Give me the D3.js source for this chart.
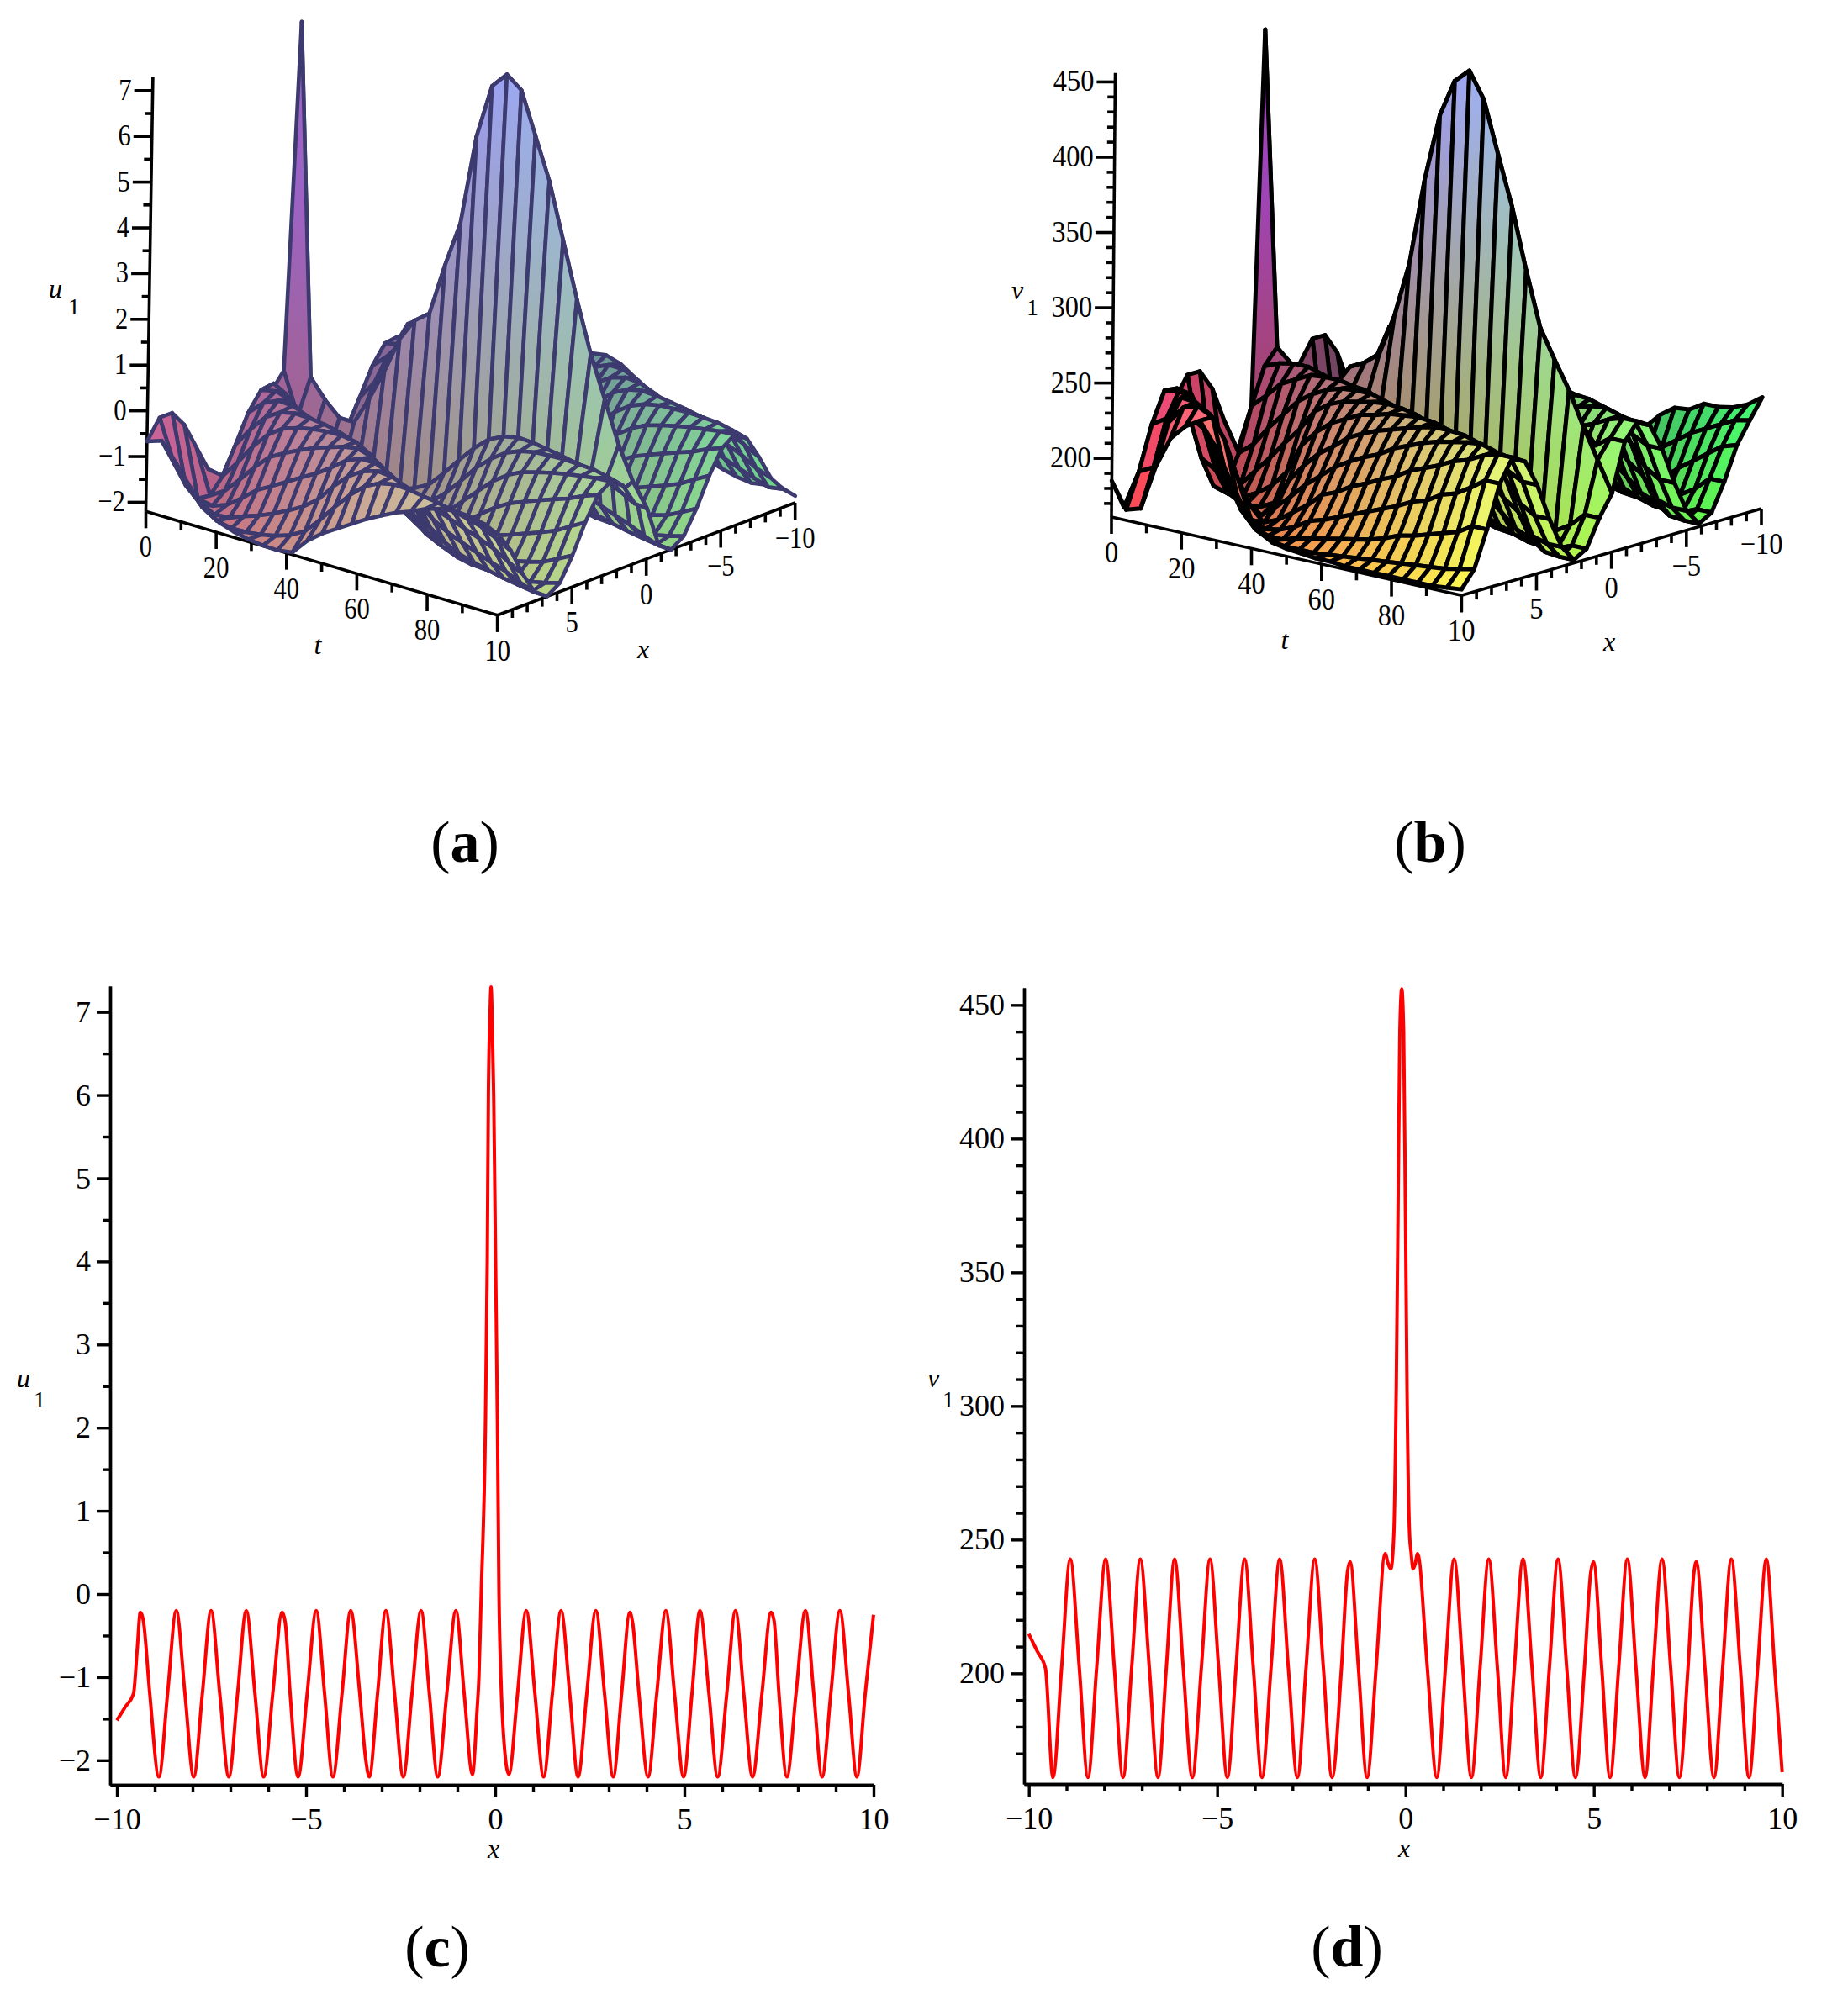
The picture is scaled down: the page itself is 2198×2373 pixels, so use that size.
<!DOCTYPE html>
<html>
<head>
<meta charset="utf-8">
<script src="https://d3js.org/d3.v7.min.js"></script>
<style>
body { margin: 0; background: #fff; }
text { font-family: "Liberation Serif", serif; fill: #000; }
</style>
</head>
<body>
<div id="chart"></div>
<script>
// grid of the two surfaces
var tGrid = [0,4.17,8.33,12.5,16.67,20.83,25,29.17,33.33,37.5,41.67,45.83,50,54.17,58.33,62.5,66.67,70.83,75,79.17,83.33,87.5,91.67,95.83,100];
var xGrid = [10,9.17,8.33,7.5,6.67,5.83,5,4.17,3.33,2.5,1.67,.83,0,-.83,-1.67,-2.5,-3.33,-4.17,-5,-5.83,-6.67,-7.5,-8.33,-9.17,-10];

// u1, one row per t
var uRows = [
[-.67,-.25,-.25,-.61,-1.2,-1.79,-2.15,-2.15,-1.79,-1.2,-.61,-.25,7.28,-.61,-1.2,-1.79,-2.15,-2.15,-1.79,-1.2,-.61,-.25,-.25,-.61,-1.2],
[-.56,-1.14,-1.74,-2.13,-2.17,-1.84,-1.26,-.66,-.27,-.23,-.56,-1.14,-.4,-2.13,-2.17,-1.84,-1.26,-.66,-.27,-.23,-.56,-1.14,-1.74,-2.13,-2.17],
[-.95,-1.57,-2.04,-2.2,-1.97,-1.45,-.83,-.36,-.2,-.43,-.95,-1.57,-.8,-2.2,-1.97,-1.45,-.83,-.36,-.2,-.43,-.95,-1.57,-2.04,-2.2,-1.97],
[-1.39,-1.93,-2.19,-2.08,-1.63,-1.01,-.47,-.21,-.32,-.77,-1.39,-1.93,-1.1,-2.08,-1.63,-1.01,-.47,-.21,-.32,-.77,-1.39,-1.93,-2.19,-2.08,-1.63],
[-1.74,-2.13,-2.17,-1.84,-1.26,-.66,-.27,-.23,-.56,-1.14,-1.74,-2.13,-1.1,-1.84,-1.26,-.66,-.27,-.23,-.56,-1.14,-1.74,-2.13,-2.17,-1.84,-1.26],
[-1.97,-2.2,-2.04,-1.57,-.95,-.43,-.2,-.36,-.83,-1.45,-1.97,-2.2,-.5,-1.57,-.95,-.43,-.2,-.36,-.83,-1.45,-1.97,-2.2,-2.04,-1.57,-.95],
[-2.08,-2.19,-1.93,-1.39,-.77,-.32,-.21,-.47,-1.01,-1.63,-2.08,-2.19,.2,-1.39,-.77,-.32,-.21,-.47,-1.01,-1.63,-2.08,-2.19,-1.93,-1.39,-.77],
[-2.15,-2.15,-1.79,-1.2,-.61,-.25,-.25,-.61,-1.2,-1.79,-2.15,-2.15,1,-1.2,-.61,-.25,-.25,-.61,-1.2,-1.79,-2.15,-2.15,-1.79,-1.2,-.61],
[-2.19,-2.08,-1.63,-1.01,-.47,-.21,-.32,-.77,-1.39,-1.93,-2.19,-2.08,1.5,-1.01,-.47,-.21,-.32,-.77,-1.39,-1.93,-2.19,-2.08,-1.63,-1.01,-.47],
[-2.2,-1.97,-1.45,-.83,-.36,-.2,-.43,-.95,-1.57,-2.04,-2.2,-1.97,1.75,-.83,-.36,-.2,-.43,-.95,-1.57,-2.04,-2.2,-1.97,-1.45,-.83,-.36],
[-2.15,-1.79,-1.2,-.61,-.25,-.25,-.61,-1.2,-1.79,-2.15,-2.15,-1.79,2.9,-.61,-.25,-.25,-.61,-1.2,-1.79,-2.15,-2.15,-1.79,-1.2,-.61,-.25],
[-1.8,-1.45,-.83,-.36,-.2,-.43,-.95,-1.57,-2.04,-2.2,-1.97,-1.45,3.9,-.36,-.2,-.43,-.95,-1.57,-2.04,-2.2,-1.97,-1.45,-.83,-.36,-.2],
[-1.55,-1.07,-.51,-.22,-.3,-.72,-1.33,-1.89,-2.18,-2.1,-1.68,-1.07,5.9,-.22,-.3,-.72,-1.33,-1.89,-2.18,-2.1,-1.68,-1.07,-.51,-.22,-.3],
[-1.35,-.72,-.3,-.22,-.51,-1.07,-1.68,-2.1,-2.18,-1.89,-1.33,-.72,7.1,-.22,-.51,-1.07,-1.68,-2.1,-2.18,-1.89,-1.33,-.72,-.3,-.22,-.51],
[-1.15,-.43,-.2,-.36,-.83,-1.45,-1.97,-2.2,-2.04,-1.57,-.95,-.43,7.45,-.36,-.83,-1.45,-1.97,-2.2,-2.04,-1.57,-.95,-.43,-.2,-.36,-.83],
[-.95,-.27,-.23,-.56,-1.14,-1.74,-2.13,-2.17,-1.84,-1.26,-.66,-.27,7.2,-.56,-1.14,-1.74,-2.13,-2.17,-1.84,-1.26,-.66,-.27,-.23,-.56,-1.14],
[-.78,-.2,-.36,-.83,-1.45,-1.97,-2.2,-2.04,-1.57,-.95,-.43,-.2,6.3,-.83,-1.45,-1.97,-2.2,-2.04,-1.57,-.95,-.43,-.2,-.36,-.83,-1.45],
[-.62,-.22,-.51,-1.07,-1.68,-2.1,-2.18,-1.89,-1.33,-.72,-.3,-.22,5.4,-1.07,-1.68,-2.1,-2.18,-1.89,-1.33,-.72,-.3,-.22,-.51,-1.07,-1.68],
[-.5,-.27,-.66,-1.26,-1.84,-2.17,-2.13,-1.74,-1.14,-.56,-.23,-.27,4.2,-1.26,-1.84,-2.17,-2.13,-1.74,-1.14,-.56,-.23,-.27,-.66,-1.26,-1.84],
[-.35,-.32,-.77,-1.39,-1.93,-2.19,-2.08,-1.63,-1.01,-.47,-.21,-.32,3,-1.39,-1.93,-2.19,-2.08,-1.63,-1.01,-.47,-.21,-.32,-.77,-1.39,-1.93],
[-.25,-.39,-.89,-1.51,-2.01,-2.2,-2.01,-1.51,-.89,-.39,-.2,-.39,1.9,-1.51,-2.01,-2.2,-2.01,-1.51,-.89,-.39,-.2,-.39,-.89,-1.51,-2.01],
[-.21,-.47,-1.01,-1.63,-2.08,-2.19,-1.93,-1.39,-.77,-.32,-.21,-.47,1,-1.63,-2.08,-2.19,-1.93,-1.39,-.77,-.32,-.21,-.47,-1.01,-1.63,-2.05],
[-.23,-.56,-1.14,-1.74,-2.13,-2.17,-1.84,-1.26,-.66,-.27,-.23,-.56,.1,-1.74,-2.13,-2.17,-1.84,-1.26,-.66,-.27,-.23,-.56,-1.14,-1.74,-2],
[-.3,-.72,-1.33,-1.89,-2.18,-2.1,-1.68,-1.07,-.51,-.22,-.3,-.72,-.6,-1.89,-2.18,-2.1,-1.68,-1.07,-.51,-.22,-.3,-.72,-1.33,-1.85,-1.95],
[-.45,-.89,-1.51,-2.01,-2.2,-2.01,-1.51,-.89,-.39,-.2,-.39,-.89,-1.1,-2.01,-2.2,-2.01,-1.51,-.89,-.39,-.2,-.39,-.89,-1.45,-1.8,-2.05]
];

// v1, one row per t
var vRows = [
[185,165,165,179,203,227,241,241,227,203,179,165,456,179,203,227,241,241,227,203,179,165,165,179,203],
[168,191,220,240,239,218,188,167,165,184,213,237,247,231,208,184,167,164,175,198,222,239,242,231,208],
[171,196,226,242,237,212,182,164,168,192,222,241,238,225,201,177,164,166,181,205,229,242,240,225,201],
[201,228,242,238,217,189,168,164,179,205,232,243,228,218,193,169,163,169,188,213,234,243,237,218,193],
[222,240,241,226,200,175,163,169,190,216,237,243,215,211,186,168,163,174,195,220,238,243,232,211,186],
[232,243,235,213,187,168,164,176,202,227,242,240,225,201,177,164,166,181,205,229,242,240,225,201,177],
[238,238,220,194,173,163,169,187,213,234,243,237,245,193,169,163,169,188,213,234,243,237,218,193,169],
[224,200,180,167,163,171,186,207,227,239,243,235,250,186,168,163,174,195,220,238,243,232,211,186,168],
[205,181,168,163,167,180,198,218,234,242,241,231,258,177,164,166,181,205,229,242,240,225,201,177,164],
[187,170,163,165,174,190,208,226,238,243,240,229,285,169,163,169,188,213,234,243,237,218,193,169,163],
[175,165,163,169,181,198,215,231,240,243,232,211,322,168,163,174,195,220,238,243,232,211,186,168,163],
[168,163,166,175,190,206,223,236,242,240,225,201,380,164,166,181,205,229,242,240,225,201,177,164,166],
[166,163,168,178,194,212,228,238,243,237,218,193,425,163,169,188,213,234,243,237,218,193,169,163,169],
[165,163,170,182,200,217,232,241,242,231,208,184,450,164,175,198,222,239,242,231,208,184,167,164,175],
[164,164,172,186,204,221,235,242,240,225,201,177,459,166,181,205,229,242,240,225,201,177,164,166,181],
[164,165,174,190,209,227,238,243,235,215,191,171,442,171,191,215,235,243,235,215,191,171,163,171,191],
[163,166,176,194,213,231,241,242,231,208,184,167,408,175,198,222,239,242,231,208,184,167,164,175,198],
[163,167,179,198,219,235,243,239,222,198,175,164,375,184,208,231,242,239,222,198,175,164,167,184,208],
[163,168,183,203,223,238,243,235,215,191,171,163,335,191,215,235,243,235,215,191,171,163,171,191,215],
[163,169,185,206,227,240,242,231,208,184,167,164,299,198,222,239,242,231,208,184,167,164,175,198,216],
[163,170,188,212,232,242,239,222,198,175,164,167,280,208,231,242,239,222,198,175,164,167,184,205,222],
[163,171,191,215,235,243,235,215,191,171,163,171,262,215,235,243,235,215,191,171,163,171,191,210,222],
[163,172,194,221,240,240,225,201,177,164,164,177,240,225,240,240,225,201,177,164,164,177,198,215,224],
[164,174,200,228,243,238,220,195,174,163,168,186,220,232,243,238,220,195,174,163,168,186,205,220,228],
[165,176,200,228,243,238,220,195,174,163,168,186,200,232,243,238,220,195,174,163,168,186,208,222,235]
];

// panel (c)
var cX = [-10,-9.78,-9.56,-9.46,-9.38,-9.3,-9.13,-8.89,-8.66,-8.43,-8.2,-7.97,-7.74,-7.51,-7.28,-7.04,-6.81,-6.58,-6.35,-6.12,-5.88,-5.63,-5.55,-5.42,-5.21,-4.97,-4.73,-4.51,-4.29,-4.05,-3.82,-3.58,-3.42,-3.33,-3.11,-2.89,-2.66,-2.43,-2.2,-1.96,-1.74,-1.52,-1.28,-1.04,-.82,-.6,-.48,-.43,-.37,-.26,-.21,-.18,-.135,-.11,-.085,-.04,.01,.06,.1,.15,.22,.36,.59,.82,1.05,1.28,1.51,1.74,1.97,2.19,2.42,2.66,2.89,3.12,3.34,3.56,3.63,3.8,4.04,4.27,4.51,4.74,4.98,5.2,5.41,5.65,5.88,6.12,6.35,6.57,6.8,7.05,7.29,7.37,7.5,7.71,7.95,8.2,8.42,8.64,8.87,9.11,9.34,9.56,9.78,10];
var cU = [-1.52,-1.36,-1.2,-.65,-.22,-.32,-1.2,-2.2,-1.2,-.2,-1.2,-2.2,-1.2,-.2,-1.2,-2.2,-1.2,-.2,-1.2,-2.2,-1.2,-.22,-.34,-1.2,-2.2,-1.2,-.2,-1.2,-2.2,-1.2,-.2,-1.2,-2,-2.2,-1.2,-.2,-1.2,-2.2,-1.2,-.2,-1.2,-2.2,-1.2,-.2,-1.2,-2.17,-1.4,-1,0,2,4,6,7,7.3,7,6,4,2,0,-1,-1.7,-2.17,-1.2,-.2,-1.2,-2.2,-1.2,-.2,-1.2,-2.2,-1.2,-.2,-1.2,-2.2,-1.2,-.22,-.34,-1.2,-2.2,-1.2,-.2,-1.2,-2.2,-1.2,-.2,-1.2,-2.2,-1.2,-.2,-1.2,-2.2,-1.2,-.22,-.32,-1.2,-2.2,-1.2,-.2,-1.2,-2.2,-1.2,-.2,-1.2,-2.2,-1.2,-.25];

// panel (d)
var dX = [-10,-9.78,-9.56,-9.36,-9.13,-8.9,-8.66,-8.43,-8.2,-7.96,-7.73,-7.5,-7.27,-7.04,-6.8,-6.57,-6.35,-6.13,-5.9,-5.66,-5.42,-5.19,-4.96,-4.73,-4.5,-4.27,-4.04,-3.81,-3.57,-3.34,-3.11,-2.87,-2.64,-2.41,-2.18,-1.95,-1.7,-1.54,-1.47,-1.25,-1.02,-.78,-.54,-.46,-.39,-.31,-.245,-.2,-.15,-.1,-.05,0,.04,.108,.15,.2,.26,.32,.58,.83,1.06,1.29,1.52,1.75,1.98,2.21,2.44,2.66,2.89,3.12,3.36,3.59,3.82,4.05,4.28,4.51,4.75,4.92,4.99,5.21,5.43,5.66,5.89,6.12,6.36,6.58,6.81,7.04,7.27,7.5,7.66,7.72,7.95,8.19,8.42,8.65,8.89,9.12,9.35,9.58,9.8,10];
var dV = [214.7,208.3,201.9,161,202,242.7,202,161,202,242.7,202,161,202,242.7,202,161,202,242.7,202,161,202,242.7,202,161,202,242.7,202,161,202,242.7,202,161,202,242.7,202,161,202,238,241.7,202,161,202,244.8,241,239,252,307,370,440,456,440,370,307,252,245,239,241,244.8,202,161,202,242.7,202,161,202,242.7,202,161,202,242.7,202,161,202,242.7,202,161,202,238,241.7,202,161,202,242.7,202,161,202,242.7,202,161,202,238,241.7,202,161,202,242.7,202,161,202,242.7,202,163];

// tick values
var uMajor = [-2,-1,0,1,2,3,4,5,6,7];
var uMinor = [-1.5,-.5,.5,1.5,2.5,3.5,4.5,5.5,6.5];
var vMajor = [200,250,300,350,400,450];
var vMinor = [170,180,190,210,220,230,240,260,270,280,290,310,320,330,340,360,370,380,390,410,420,430,440];
var xMajor = [-10,-5,0,5,10];
var xMinor = [-9,-8,-7,-6,-4,-3,-2,-1,1,2,3,4,6,7,8,9];
var tMajor = [0,20,40,60,80];
var tMinor = [10,30,50,70,90];

var svg = d3.select("#chart").append("svg")
    .attr("width", 2198)
    .attr("height", 2373)
    .style("display", "block")
    .style("background", "#fff");
var defs = svg.append("defs");

function tickText(v) {
    return v < 0 ? "\u2212" + (-v) : "" + v;
}

// axis label with an upright subscript
function subLabel(name, px, py, sx, sy) {
    svg.append("text").attr("x", px).attr("y", py)
        .attr("text-anchor", "middle")
        .style("font-style", "italic").style("font-size", "32px")
        .text(name);
    svg.append("text").attr("x", sx).attr("y", sy)
        .attr("text-anchor", "middle")
        .style("font-size", "28px")
        .text("1");
}

function plainLabel(name, px, py) {
    svg.append("text").attr("x", px).attr("y", py)
        .attr("text-anchor", "middle")
        .style("font-style", "italic").style("font-size", "32px")
        .text(name);
}

function caption(letter, px, py) {
    var t = svg.append("text").attr("x", px).attr("y", py)
        .attr("text-anchor", "middle")
        .style("font-size", "70px");
    t.append("tspan").text("(");
    t.append("tspan").style("font-weight", "bold").text(letter);
    t.append("tspan").text(")");
}

function drawLine(xs, ys, c) {
    var x = d3.scaleLinear().domain(c.xDomain).range(c.xRange);
    var y = d3.scaleLinear().domain(c.yDomain).range(c.yRange);

    var line = d3.line()
        .x(function(d) { return x(d[0]); })
        .y(function(d) { return y(d[1]); })
        .curve(d3.curveMonotoneX);

    svg.append("path")
        .attr("d", line(d3.zip(xs, ys)))
        .attr("fill", "none")
        .attr("stroke", "#ff0000")
        .attr("stroke-width", 4)
        .attr("stroke-linejoin", "round");

    // minor ticks first, then the labelled ones
    var gx = svg.append("g").attr("transform", "translate(0," + c.yRange[0] + ")");
    gx.append("g").call(d3.axisBottom(x).tickValues(xMinor).tickSize(8).tickSizeOuter(0).tickFormat(""));
    gx.append("g").call(d3.axisBottom(x).tickValues(xMajor).tickSize(15).tickSizeOuter(0).tickPadding(12).tickFormat(tickText));

    var gy = svg.append("g").attr("transform", "translate(" + c.xRange[0] + ",0)");
    gy.append("g").call(d3.axisLeft(y).tickValues(c.minor).tickSize(9).tickSizeOuter(0).tickFormat(""));
    gy.append("g").call(d3.axisLeft(y).tickValues(c.major).tickSize(16).tickSizeOuter(0).tickPadding(7).tickFormat(tickText));

    svg.selectAll(".tick line, .domain").attr("stroke", "#000").attr("stroke-width", 3.4);
    svg.selectAll(".tick text").style("font-size", "36px").style("font-family", "Liberation Serif").attr("fill", "#000");
}

function drawSurface(rows, c) {
    var st = d3.scaleLinear().domain([0, 100]).range([0, 1]);
    var sx = d3.scaleLinear().domain([10, -10]).range([0, 1]);
    var sz = d3.scaleLinear().domain(c.zDomain).range([0, 1]).clamp(true);
    var sp = d3.scaleLinear().domain(c.zDomain).range([0, 1]);
    var red = d3.scaleLinear().domain([1, 0]).range(c.red);
    var green = d3.scaleLinear().domain([0, 1]).range(c.green);
    var blue = d3.scaleLinear().domain([0, 1]).range(c.blue);

    function project(t, x, z) {
        return [
            c.origin[0] + c.tv[0] * st(t) + c.xv[0] * sx(x) + c.zv[0] * sp(z),
            c.origin[1] + c.tv[1] * st(t) + c.xv[1] * sx(x) + c.zv[1] * sp(z)
        ];
    }

    function shade(t, x, z) {
        return d3.rgb(255 * red(sx(x)), 255 * green(st(t)), 255 * blue(sz(z))).formatRgb();
    }

    function stroke3d(g, a, b, w) {
        g.append("line")
            .attr("x1", a[0]).attr("y1", a[1])
            .attr("x2", b[0]).attr("y2", b[1])
            .attr("stroke", "#000").attr("stroke-width", w);
    }

    var g = svg.append("g");
    var z0 = c.zDomain[0], z1 = c.zDomain[1];
    stroke3d(g, project(0, 10, z0), project(100, 10, z0), 3.6);
    stroke3d(g, project(100, 10, z0), project(100, -10, z0), 3.6);
    stroke3d(g, project(0, 10, z0), project(0, 10, z1), 3.6);

    // t axis
    tMajor.concat([100]).forEach(function(t) {
        var p = project(t, 10, z0);
        stroke3d(g, p, [p[0], p[1] + 20], 3.6);
    });
    tMinor.forEach(function(t) {
        var p = project(t, 10, z0);
        stroke3d(g, p, [p[0], p[1] + 10], 3.6);
    });
    // x axis
    xMajor.forEach(function(x) {
        var p = project(100, x, z0);
        stroke3d(g, p, [p[0], p[1] + 20], 3.6);
    });
    xMinor.forEach(function(x) {
        var p = project(100, x, z0);
        stroke3d(g, p, [p[0], p[1] + 10], 3.6);
    });
    // vertical axis
    c.major.forEach(function(z) {
        var p = project(0, 10, z);
        stroke3d(g, p, [p[0] - 22, p[1]], 3.6);
        g.append("text")
            .attr("transform", "translate(" + (p[0] - 25) + "," + (p[1] + 11) + ") scale(" + c.squeeze + ",1)")
            .attr("text-anchor", "end")
            .style("font-size", "36px")
            .text(tickText(z));
    });
    c.minor.forEach(function(z) {
        var p = project(0, 10, z);
        stroke3d(g, p, [p[0] - 9, p[1]], 3.6);
    });

    function axisText(p, label) {
        g.append("text")
            .attr("transform", "translate(" + p[0] + "," + (p[1] + 54) + ") scale(" + c.squeeze + ",1)")
            .attr("text-anchor", "middle")
            .style("font-size", "36px")
            .text(label);
    }
    tMajor.forEach(function(t) { axisText(project(t, 10, z0), tickText(t)); });
    xMajor.forEach(function(x) { axisText(project(100, x, z0), tickText(x)); });

    // far cells first: low t, low x
    var cells = [];
    d3.range(tGrid.length - 1).forEach(function(i) {
        d3.range(xGrid.length - 2, -1, -1).forEach(function(j) {
            cells.push([i, j]);
        });
    });

    g.selectAll("path.cell").data(cells).join("path")
        .attr("class", "cell")
        .attr("d", function(d) {
            var i = d[0], j = d[1];
            return d3.line()([
                project(tGrid[i], xGrid[j], rows[i][j]),
                project(tGrid[i + 1], xGrid[j], rows[i + 1][j]),
                project(tGrid[i + 1], xGrid[j + 1], rows[i + 1][j + 1]),
                project(tGrid[i], xGrid[j + 1], rows[i][j + 1])
            ]) + "Z";
        })
        .attr("fill", function(d) {
            var i = d[0], j = d[1];
            var t = (tGrid[i] + tGrid[i + 1]) / 2;
            var zA = (rows[i][j] + rows[i + 1][j]) / 2;
            var zB = (rows[i][j + 1] + rows[i + 1][j + 1]) / 2;
            // the steep cells next to the ridge get a real gradient
            if (j == 11 || j == 12) {
                var a = project(t, xGrid[j], zA), b = project(t, xGrid[j + 1], zB);
                var id = c.name + "-" + i + "-" + j;
                var lg = defs.append("linearGradient").attr("id", id)
                    .attr("gradientUnits", "userSpaceOnUse")
                    .attr("x1", a[0]).attr("y1", a[1])
                    .attr("x2", b[0]).attr("y2", b[1]);
                lg.append("stop").attr("offset", 0).attr("stop-color", shade(t, xGrid[j], zA));
                lg.append("stop").attr("offset", 1).attr("stop-color", shade(t, xGrid[j + 1], zB));
                return "url(#" + id + ")";
            }
            return shade(t, (xGrid[j] + xGrid[j + 1]) / 2, (zA + zB) / 2);
        })
        .attr("stroke", c.lineColor)
        .attr("stroke-width", c.lineWidth)
        .attr("stroke-linejoin", "round");
}

drawSurface(uRows, {
    name: "u",
    origin: [173.5, 608.3], tv: [418.2, 123.4], xv: [354, -133.7], zv: [8.4, -516.8],
    zDomain: [-2.2, 7.3], major: uMajor, minor: uMinor, squeeze: .85,
    red: [.42, .8], green: [.38, .84], blue: [.52, .94],
    lineColor: "#3c3a6e", lineWidth: 4.6
});
subLabel("u", 66, 354, 88, 374);
plainLabel("t", 378, 778);
plainLabel("x", 765, 783);
caption("a", 553, 1025);

drawSurface(vRows, {
    name: "v",
    origin: [1322, 615], tv: [416.3, 93.3], xv: [356.7, -103.3], zv: [4.5, -528.3],
    zDomain: [161, 456], major: vMajor, minor: vMinor, squeeze: .9,
    red: [.25, 1], green: [.25, .97], blue: [.3, .95],
    lineColor: "#000", lineWidth: 5
});
subLabel("v", 1210, 356, 1228, 375);
plainLabel("t", 1528, 772);
plainLabel("x", 1914, 774);
caption("b", 1701, 1025);

drawLine(cX, cU, {
    xDomain: [-10.178, 10], xRange: [131, 1039],
    yDomain: [-2.295, 7.31], yRange: [2123, 1173],
    major: uMajor, minor: uMinor
});
subLabel("u", 28, 1650, 47, 1674);
plainLabel("x", 587, 2210);
caption("c", 520, 2339);

drawLine(dX, dV, {
    xDomain: [-10.127, 10], xRange: [1218, 2119.7],
    yDomain: [158.6, 456.4], yRange: [2122, 1175],
    major: vMajor, minor: vMinor
});
subLabel("v", 1110, 1650, 1128, 1674);
plainLabel("x", 1670, 2209);
caption("d", 1602, 2339);
</script>
</body>
</html>
